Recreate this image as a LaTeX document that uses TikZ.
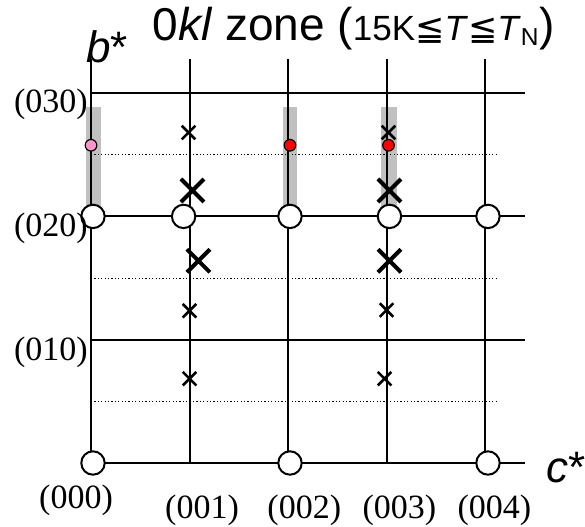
\documentclass[tikz,border=0pt]{standalone}
\usepackage{fontspec}
\setmainfont{Liberation Serif}
\newfontfamily\arialfont{Liberation Sans}
\newfontfamily\relfont{DejaVu Sans}
\usetikzlibrary{shapes.misc}
\definecolor{barGray}{RGB}{192,192,192}
\definecolor{satPink}{RGB}{255,150,200}
\newcommand{\rleq}{{\relfont\char"2266}}
\tikzset{
  gridline/.style={line width=1pt},
  halfline/.style={line width=0.5pt,dash pattern=on 0.6pt off 1.1pt},
  refl/.style={circle,draw,fill=white,line width=1pt,minimum size=11.7pt,inner sep=0pt},
  satdot/.style={circle,draw,line width=0.6pt,minimum size=5.8pt,inner sep=0pt},
  bigx/.style={cross out,draw,line width=2pt,minimum size=9.5pt,inner sep=0pt},
  smallx/.style={cross out,draw,line width=1.3pt,minimum size=5.5pt,inner sep=0pt},
  hkl/.style={inner sep=0pt,font=\fontsize{17}{20}\selectfont},
  axislbl/.style={inner sep=0pt,anchor=base west,font=\arialfont\fontsize{22}{26}\selectfont},
}
\begin{document}
\begin{tikzpicture}[x=49.25pt,y=61.65pt]
\useasboundingbox (-0.924,-0.511) rectangle (5.015,3.755);

% shaded ranges along b*
\fill[barGray] (-0.051,2) rectangle (0.098,2.887);
\fill[barGray] (1.946,2) rectangle (2.095,2.887);
\fill[barGray] (2.944,2) rectangle (3.104,2.887);

% lattice
\foreach \col in {0,...,4} \draw[gridline] (\col,0)--(\col,3.28);
\foreach \row in {0,...,3} \draw[gridline] (0,\row)--(4.41,\row);
\foreach \row in {0.5,1.5,2.5} \draw[halfline] (0,\row)--(4.13,\row);

% nuclear reflections
\node[refl] (s000) at (0.02,0) {};
\node[refl] (s002) at (2.02,0) {};
\node[refl] (s004) at (4.03,0) {};
\node[refl] (s020) at (0.02,2) {};
\node[refl] (s021) at (0.94,2) {};
\node[refl] (s022) at (2.02,2) {};
\node[refl] (s023) at (3.03,2) {};
\node[refl] (s024) at (4.03,2) {};

% satellites
\node[satdot,fill=satPink] (m0) at (0,2.577) {};
\node[satdot,fill=red] (m2) at (2.02,2.577) {};
\node[satdot,fill=red] (m3) at (3.02,2.577) {};

% forbidden positions
\node[smallx] (a1) at (0.99,2.68) {};
\node[smallx] (a2) at (3.02,2.68) {};
\node[smallx] (a3) at (1.0,1.235) {};
\node[smallx] (a4) at (1.0,0.684) {};
\node[smallx] (a5) at (3.0,1.24) {};
\node[smallx] (a6) at (2.98,0.684) {};
\node[bigx] (b1) at (1.03,2.21) {};
\node[bigx] (b2) at (1.09,1.64) {};
\node[bigx] (b3) at (3.03,2.21) {};
\node[bigx] (b4) at (3.03,1.64) {};

% indices
\node[hkl,anchor=base east] (l030) at (-0.03,2.839) {(030)};
\node[hkl,anchor=base east] (l020) at (-0.03,1.833) {(020)};
\node[hkl,anchor=base east] (l010) at (-0.03,0.835) {(010)};
\node[hkl,anchor=base] (l000) at (-0.152,-0.365) {(000)};
\node[hkl,anchor=base] (l001) at (1.127,-0.446) {(001)};
\node[hkl,anchor=base] (l002) at (2.165,-0.446) {(002)};
\node[hkl,anchor=base] (l003) at (3.13,-0.446) {(003)};
\node[hkl,anchor=base] (l004) at (4.096,-0.446) {(004)};

% axes and title
\node[axislbl] (bstar) at (-0.05,3.252) {\textit{b}*};
\node[axislbl] (cstar) at (4.62,-0.162) {\textit{c}*};
\node[inner sep=0pt,anchor=base west,font=\arialfont\fontsize{23}{27}\selectfont] (title) at (0.62,3.43)
  {0\textit{kl} zone ({\fontsize{17.5}{20}\selectfont 15K\rleq\textit{T}\rleq\textit{T}\textsubscript{N}})};
\end{tikzpicture}
\end{document}
